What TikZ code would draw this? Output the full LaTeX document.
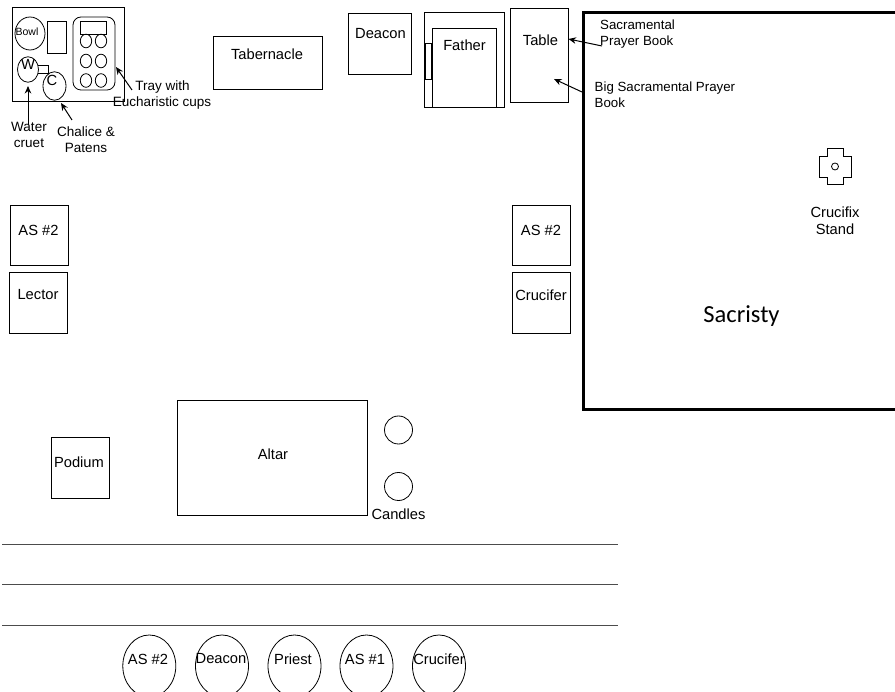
\documentclass[tikz,border=0pt]{standalone}
\usepackage{fontspec}
\setmainfont{Liberation Sans}
\newfontfamily\sacfont{Carlito}
\usetikzlibrary{arrows.meta,shapes.geometric}
\tikzset{
  shp/.style={draw=black,line width=0.8pt,inner sep=0pt},
  lbl/.style={inner sep=0pt,font=\fontsize{14.7}{16.5}\selectfont,align=center},
  capt/.style={inner sep=0pt,font=\fontsize{13.5}{16}\selectfont,align=center},
  sml/.style={inner sep=0pt,font=\fontsize{13.3}{16}\selectfont,align=left,anchor=west},
  arw/.style={draw=black,line width=1pt,-{Stealth[length=7.5pt,width=6.5pt]}}
}
\newcommand{\boxnode}[8]{% name x1 y1 x2 y2 text tx ty
  \draw[shp] (#2,#3) rectangle (#4,#5);
  \node[lbl] (#1) at (#7,#8) {#6};
}
\begin{document}
\begin{tikzpicture}[x=1pt,y=-1pt]
\useasboundingbox (0,0) rectangle (895,692);
\clip (0,0) rectangle (895,692);
% credence table
\draw[shp] (12,7) rectangle (124,101.5);
\draw[shp] (30,33.5) ellipse (15 and 16.5);
\node[inner sep=0pt,font=\fontsize{10.5}{12}\selectfont] (bowl) at (27,32) {Bowl};
\draw[shp] (47,21) rectangle (66,53);
\draw[shp,rounded corners=8pt] (73,17) rectangle (115,90);
\draw[shp] (80,21) rectangle (106,34);
\foreach \cx in {86,101} \foreach \cy in {41,61,80.5} \draw[shp] (\cx,\cy) ellipse (5.7 and 6.8);
\draw[shp] (37,65) rectangle (48,73);
\node[shp,ellipse,minimum width=21pt,minimum height=25.5pt,fill=white] (W) at (28,69.5) {};
\node[lbl] at (28,64) {W};
\node[shp,ellipse,minimum width=23pt,minimum height=28.5pt] (C) at (54.5,86) {};
\node[lbl] at (52,80) {C};
\node[capt] (traylbl) at (162.5,87) {Tray with};
\node[capt] (eucl) at (162,103) {Eucharistic cups};
\coordinate (trayS) at (132,90);
\coordinate (trayT) at (116,67);
\draw[arw] (trayS) -- (trayT);
\node[capt] (water) at (29,134.5) {Water\\cruet};
\coordinate (waterS) at (28,125);
\coordinate (waterT) at (28,86);
\draw[arw] (waterS) -- (waterT);
\node[capt] (chalice) at (86,140) {Chalice \&\\Patens};
\coordinate (chalS) at (72,120);
\coordinate (chalT) at (61,103);
\draw[arw] (chalS) -- (chalT);
% top row
\boxnode{tab}{213}{36}{322.5}{89.5}{Tabernacle}{267}{54}
\boxnode{deaconbox}{348}{13}{411}{74}{Deacon}{380.5}{34}
\draw[shp] (424,12.5) rectangle (504,107);
\draw[shp] (425,43) rectangle (431,79);
\draw[shp] (432,28) rectangle (496,107);
\node[lbl] (father) at (464.5,45) {Father};
\boxnode{table}{510}{8}{568}{102}{Table}{540.5}{40}
% sacristy
\draw[draw=black,line width=3pt] (900,13) -- (583.5,13) -- (583.5,410) -- (900,410);
\node[font=\sacfont\fontsize{24.5}{28}\selectfont,inner sep=0pt] (sac) at (741.5,316) {Sacristy};
\node[sml] (spb) at (600,34.5) {Sacramental\\Prayer Book};
\node[sml] (bspb) at (594.5,95) {Big Sacramental Prayer\\Book};
\coordinate (spbS) at (602,46);
\coordinate (tabT) at (568.5,39);
\draw[arw] (spbS) -- (tabT);
\coordinate (bigS) at (582,92);
\coordinate (bigT) at (554,79);
\draw[arw] (bigS) -- (bigT);
% crucifix
\draw[shp] (827,148) -- (843,148) -- (843,156) -- (851,156) -- (851,177) -- (843,177) -- (843,184) -- (827,184) -- (827,177) -- (819.5,177) -- (819.5,156) -- (827,156) -- cycle;
\node[shp,circle,minimum size=7pt] (cruc) at (835,166.5) {};
\node[lbl] (crucl) at (835,220.5) {Crucifix\\Stand};
% side stations
\boxnode{as2l}{10}{205}{68}{265}{AS \#2}{38.5}{230}
\boxnode{lect}{9}{272}{67}{333}{Lector}{38}{295}
\boxnode{as2r}{512}{205}{570}{265}{AS \#2}{541}{230}
\boxnode{cruf}{512}{272}{570}{333}{Crucifer}{541}{295}
% altar
\boxnode{altar}{177}{400}{367}{515}{Altar}{273}{454}
\boxnode{pod}{51.5}{437}{109.5}{498}{Podium}{79}{462}
\node[shp,circle,minimum size=28pt] (c1) at (398.5,430) {};
\node[shp,circle,minimum size=28pt] (c2) at (398.5,486.5) {};
\node[lbl] (cand) at (398.5,514) {Candles};
% rails
\draw[black!70!white,line width=0.9pt] (2,544.5) -- (618,544.5);
\draw[black!70!white,line width=0.9pt] (2,584.5) -- (618,584.5);
\draw[black!70!white,line width=0.9pt] (2,625) -- (618,625);
% procession
\foreach \nm/\cx/\tx/\lx in {p1/149.3/AS \#2/148,p2/222/Deacon/221,p3/294.5/Priest/293,p4/366.5/AS \#1/365,p5/439/Crucifer/439}{
  \draw[shp] (\cx,666) ellipse (26.5 and 31);
  \node[lbl] (\nm) at (\lx,659) {\tx};
}
\end{tikzpicture}
\end{document}
